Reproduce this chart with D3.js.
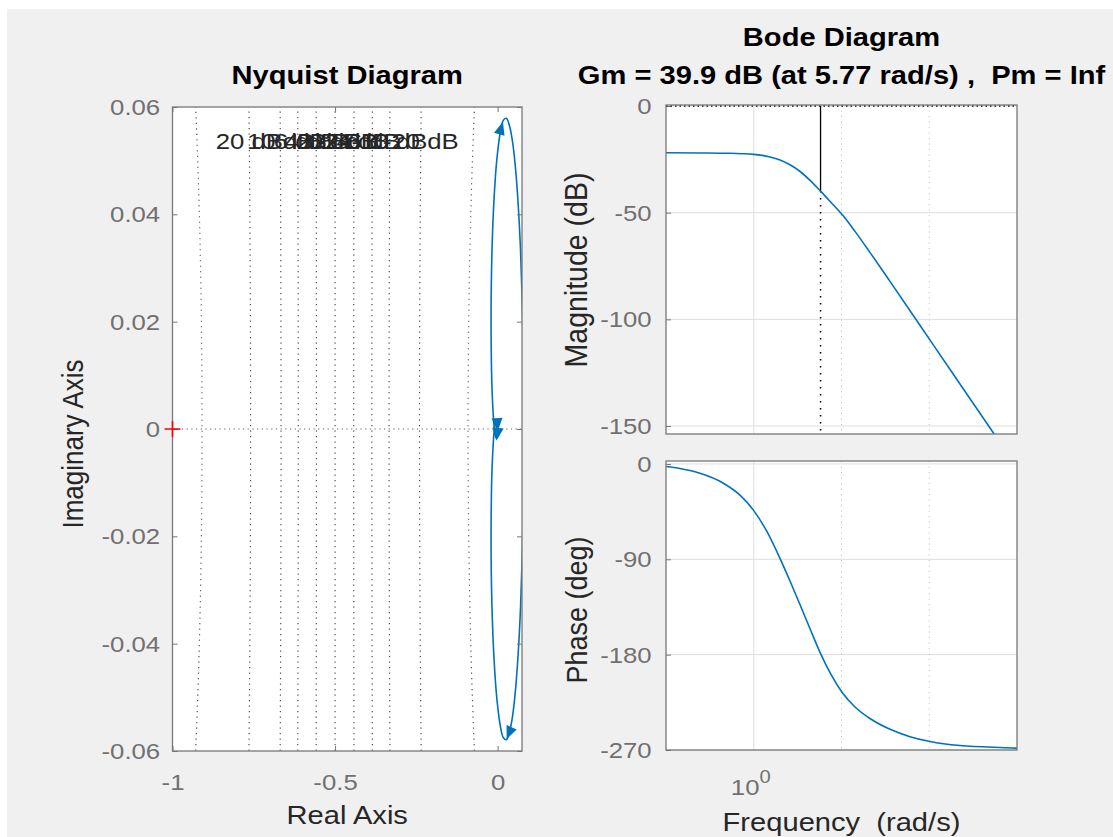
<!DOCTYPE html>
<html>
<head>
<meta charset="utf-8">
<script src="https://cdn.jsdelivr.net/npm/d3@7"></script>
<style>
  body { margin: 0; background: #fff; }
  svg { display: block; font-family: "Liberation Sans", Arial, Helvetica, sans-serif; }
</style>
</head>
<body>
<div id="chart"></div>
<script>
// ---- Nyquist data, listed along the frequency sweep
const nyqRe      = [0.0808, 0.0796, 0.0760, 0.0705, 0.0632, 0.0547, 0.0455, 0.0361, 0.0269, 0.0182, 0.0103, -0.0026, -0.0115, -0.0169, -0.0195, -0.0202, -0.0191, -0.0169, -0.0135, -0.0101, -0.0071, -0.0038, -0.0021, -0.0008, -0.0002, 0];
const nyqImLower = [0, -0.0118, -0.0232, -0.0333, -0.0419, -0.0488, -0.0537, -0.0566, -0.0579, -0.0576, -0.0560, -0.0501, -0.0423, -0.0341, -0.0265, -0.0199, -0.0122, -0.0070, -0.0027, 0, 0.0013, 0.0017, 0.0015, 0.0009, 0.0003, 0];
const nyqImUpper = [0, 0.0118, 0.0232, 0.0333, 0.0419, 0.0488, 0.0537, 0.0566, 0.0579, 0.0576, 0.0560, 0.0501, 0.0423, 0.0341, 0.0265, 0.0199, 0.0122, 0.0070, 0.0027, 0, -0.0013, -0.0017, -0.0015, -0.0009, -0.0003, 0];
// arrow heads: branch, index on branch, index it heads to
const nyqArrows = [["upper", 10, 9], ["lower", 7, 8], ["upper", 23, 22], ["lower", 23, 24]];
const mCircleDb = [20, 10, 6, 4, 2, 0, -2, -4, -6, -10, -20];
const mCircleLabels = ["20 dB", "10 dB", "6 dB", "4 dB", "2 dB", "0 dB", "-2 dB", "-4 dB", "-6 dB", "-10 dB", "-20 dB"];
const nyqXTicks = [-1, -0.5, 0];
const nyqXLabels = ["-1", "-0.5", "0"];
const nyqYTicks = [0.06, 0.04, 0.02, 0, -0.02, -0.04, -0.06];
const nyqYLabels = ["0.06", "0.04", "0.02", "0", "-0.02", "-0.04", "-0.06"];

// ---- Bode data
const magFreq = [0.1, 0.244, 0.536, 0.735, 1, 1.242, 1.53, 1.99, 2.59, 3.37, 4.38, 5.77, 7.4, 10.4, 14.25, 21.1, 35.7, 68.8, 172, 480, 1000];
const magDb   = [-21.9, -22.0, -22.17, -22.36, -22.69, -23.15, -23.9, -25.31, -27.56, -30.7, -34.83, -39.89, -44.67, -51.37, -58.78, -68.62, -82.22, -99.37, -123.42, -150.23, -169.45];
const phFreq = [0.1, 0.144, 0.244, 0.446, 0.697, 1, 1.416, 1.99, 2.59, 3.37, 4.38, 5.69, 7.59, 10.13, 14.25, 21.1, 35.7, 60.3, 102, 224, 899, 1000];
const phDeg  = [-2.4, -4.3, -8.8, -17.96, -29.48, -44.02, -63.84, -89.04, -110.5, -132.9, -155.6, -177.8, -198.7, -215.5, -229.4, -240.3, -250.5, -257.4, -262, -265.8, -268.1, -268.3];
const gmFreq = 5.77;
const gmDb = -39.9;
const magTicks = [0, -50, -100, -150];
const magLabels = ["0", "-50", "-100", "-150"];
const phTicks = [0, -90, -180, -270];
const phLabels = ["0", "-90", "-180", "-270"];
const freqMajor = [1];
const freqMinor = [10, 100];

const SX = 1.12; // glyphs in the picture are slightly wide
const blue = "#0072BD";

const svg = d3.select("#chart").append("svg")
    .attr("width", 1113)
    .attr("height", 837);

svg.append("rect").attr("x", 7).attr("y", 9).attr("width", 1106).attr("height", 828).attr("fill", "#f0f0f0");

function addText(g, x, y, s, o = {}) {
    return g.append("text")
        .attr("transform", `translate(${x},${y}) scale(${SX},1)` + (o.rotate ? ` rotate(${o.rotate})` : ""))
        .attr("text-anchor", o.anchor || "middle")
        .attr("font-size", o.size || 26)
        .attr("font-weight", o.weight || "normal")
        .attr("fill", o.fill || "#262626")
        .text(s);
}

function styleAxis(g, size) {
    g.select(".domain").remove();
    g.selectAll(".tick line").attr("stroke", "#777");
    g.selectAll(".tick text")
        .attr("font-size", size)
        .attr("fill", "#707070")
        .attr("font-family", "Liberation Sans, Arial, sans-serif")
        .attr("transform", `scale(${SX},1)`);
}

// =================== Nyquist ===================
const nL = 172.5, nR = 522, nT = 107, nB = 751;
const xN = d3.scaleLinear().domain([-1, 0.075]).range([nL, nR]);
const yN = d3.scaleLinear().domain([-0.06, 0.06]).range([nB, nT]);

const gN = svg.append("g");
gN.append("rect").attr("x", nL).attr("y", nT).attr("width", nR - nL).attr("height", nB - nT).attr("fill", "#fff");
svg.append("clipPath").attr("id", "clipN").append("rect")
    .attr("x", nL).attr("y", nT).attr("width", nR - nL).attr("height", nB - nT);
const gNc = gN.append("g").attr("clip-path", "url(#clipN)");

// M-circles (constant closed-loop gain)
const ySamples = d3.range(-0.062, 0.0621, 0.002);
mCircleDb.forEach(db => {
    let pts;
    if (db === 0) {
        pts = [[-0.5, -0.062], [-0.5, 0.062]];
    } else {
        const M = Math.pow(10, db / 20);
        const c = -M * M / (M * M - 1);
        const r = Math.abs(M / (M * M - 1));
        const side = M > 1 ? 1 : -1;
        pts = ySamples.filter(y => y * y <= r * r).map(y => [c + side * Math.sqrt(r * r - y * y), y]);
    }
    gNc.append("path")
        .attr("d", d3.line().x(d => xN(d[0])).y(d => yN(d[1]))(pts))
        .attr("fill", "none")
        .attr("stroke", "#505050")
        .attr("stroke-width", 1.2)
        .attr("stroke-dasharray", "1.2,4.3");
});

// real axis dotted
gNc.append("line")
    .attr("x1", nL).attr("x2", nR).attr("y1", yN(0)).attr("y2", yN(0))
    .attr("stroke", "#606060").attr("stroke-width", 1.2).attr("stroke-dasharray", "1.2,3.5");

// M-circle labels
mCircleDb.forEach((db, i) => {
    let cross;
    if (db === 0) cross = -0.5;
    else { const M = Math.pow(10, db / 20); cross = -M / (M + 1); }
    addText(gNc, xN(-0.5 + 0.645 * (cross + 0.5)), yN(0.0539) + 9, mCircleLabels[i], { size: 23, fill: "#262626" });
});

// Nyquist curves
const branches = {
    lower: nyqRe.map((r, i) => [r, nyqImLower[i]]),
    upper: nyqRe.map((r, i) => [r, nyqImUpper[i]])
};
const nyqLine = d3.line().x(d => xN(d[0])).y(d => yN(d[1])).curve(d3.curveCatmullRom.alpha(0.5));
["lower", "upper"].forEach(k => {
    gNc.append("path").attr("d", nyqLine(branches[k]))
        .attr("fill", "none").attr("stroke", blue).attr("stroke-width", 1.6);
});

// arrow heads
nyqArrows.forEach(([k, i, j]) => {
    const p = branches[k][i], q = branches[k][j];
    const x0 = xN(p[0]), y0 = yN(p[1]);
    const ang = Math.atan2(yN(q[1]) - y0, xN(q[0]) - x0) * 180 / Math.PI;
    gNc.append("path")
        .attr("d", "M7,0 L-6,-5.5 L-6,5.5 Z")
        .attr("transform", `translate(${x0},${y0}) rotate(${ang})`)
        .attr("fill", blue);
});

// axes
const axL = gN.append("g").attr("transform", `translate(${nL},0)`)
    .call(d3.axisLeft(yN).tickValues(nyqYTicks).tickFormat((d, i) => nyqYLabels[i]).tickSizeInner(-5).tickSizeOuter(0).tickPadding(11));
styleAxis(axL, 23);
const axR = gN.append("g").attr("transform", `translate(${nR},0)`)
    .call(d3.axisRight(yN).tickValues(nyqYTicks).tickFormat("").tickSizeInner(-5).tickSizeOuter(0));
styleAxis(axR, 23);
const axB = gN.append("g").attr("transform", `translate(0,${nB})`)
    .call(d3.axisBottom(xN).tickValues(nyqXTicks).tickFormat((d, i) => nyqXLabels[i]).tickSizeInner(-5).tickSizeOuter(0).tickPadding(23));
styleAxis(axB, 23);
const axT = gN.append("g").attr("transform", `translate(0,${nT})`)
    .call(d3.axisTop(xN).tickValues(nyqXTicks).tickFormat("").tickSizeInner(-5).tickSizeOuter(0));
styleAxis(axT, 23);

gN.append("rect").attr("x", nL).attr("y", nT).attr("width", nR - nL).attr("height", nB - nT)
    .attr("fill", "none").attr("stroke", "#777").attr("stroke-width", 1.3);

// critical point (-1, 0)
gN.append("path")
    .attr("d", `M${xN(-1) - 8},${yN(0)}H${xN(-1) + 8}M${xN(-1)},${yN(0) - 8}V${yN(0) + 8}`)
    .attr("stroke", "#ff0000").attr("stroke-width", 1.6);

addText(gN, (nL + nR) / 2, 84, "Nyquist Diagram", { weight: "bold", fill: "#000" });
addText(gN, (nL + nR) / 2, 824, "Real Axis");
addText(gN, 83, 444, "Imaginary Axis", { rotate: -90 });

// =================== Bode ===================
const bL = 666, bR = 1017;
const mT = 105, mB = 434, pT = 461, pB = 750;
const xB = d3.scaleLog().domain([0.1, 1000]).range([bL, bR]);
const yM = d3.scaleLinear().domain([-153.75, 0.47]).range([mB, mT]);
const yP = d3.scaleLinear().domain([-270, 2.8]).range([pB, pT]);

function bodePanel(top, bottom, y, ticks, labels, id) {
    const g = svg.append("g");
    g.append("rect").attr("x", bL).attr("y", top).attr("width", bR - bL).attr("height", bottom - top).attr("fill", "#fff");
    // horizontal grid
    g.selectAll(".hg").data(ticks).enter().append("line")
        .attr("x1", bL).attr("x2", bR).attr("y1", d => y(d)).attr("y2", d => y(d))
        .attr("stroke", "#dedede").attr("stroke-width", 1);
    // vertical grid
    g.selectAll(".vg").data(freqMajor).enter().append("line")
        .attr("x1", d => xB(d)).attr("x2", d => xB(d)).attr("y1", top).attr("y2", bottom)
        .attr("stroke", "#dedede").attr("stroke-width", 1);
    g.selectAll(".vm").data(freqMinor).enter().append("line")
        .attr("x1", d => xB(d)).attr("x2", d => xB(d)).attr("y1", top).attr("y2", bottom)
        .attr("stroke", "#c4c4c4").attr("stroke-width", 1).attr("stroke-dasharray", "1.2,4.3");
    svg.append("clipPath").attr("id", id).append("rect")
        .attr("x", bL).attr("y", top).attr("width", bR - bL).attr("height", bottom - top);
    const ax = g.append("g").attr("transform", `translate(${bL},0)`)
        .call(d3.axisLeft(y).tickValues(ticks).tickFormat((d, i) => labels[i]).tickSizeInner(-5).tickSizeOuter(0).tickPadding(12.8));
    styleAxis(ax, 23);
    return g;
}

// magnitude
const gM = bodePanel(mT, mB, yM, magTicks, magLabels, "clipM");
const gMc = gM.append("g").attr("clip-path", "url(#clipM)");
gMc.append("line").attr("x1", bL).attr("x2", bR).attr("y1", yM(0)).attr("y2", yM(0))
    .attr("stroke", "#000").attr("stroke-width", 1.3).attr("stroke-dasharray", "1.5,3");
gMc.append("line").attr("x1", xB(gmFreq)).attr("x2", xB(gmFreq)).attr("y1", yM(0)).attr("y2", yM(gmDb))
    .attr("stroke", "#000").attr("stroke-width", 1.3);
gMc.append("line").attr("x1", xB(gmFreq)).attr("x2", xB(gmFreq)).attr("y1", yM(gmDb)).attr("y2", mB)
    .attr("stroke", "#000").attr("stroke-width", 1.5).attr("stroke-dasharray", "1.5,5.5");
gMc.append("path")
    .attr("d", d3.line().x((d, i) => xB(magFreq[i])).y(d => yM(d)).curve(d3.curveMonotoneX)(magDb))
    .attr("fill", "none").attr("stroke", blue).attr("stroke-width", 1.6);
gM.append("rect").attr("x", bL).attr("y", mT).attr("width", bR - bL).attr("height", mB - mT)
    .attr("fill", "none").attr("stroke", "#777").attr("stroke-width", 1.3);

// phase
const gP = bodePanel(pT, pB, yP, phTicks, phLabels, "clipP");
const gPc = gP.append("g").attr("clip-path", "url(#clipP)");
gPc.append("path")
    .attr("d", d3.line().x((d, i) => xB(phFreq[i])).y(d => yP(d)).curve(d3.curveMonotoneX)(phDeg))
    .attr("fill", "none").attr("stroke", blue).attr("stroke-width", 1.6);
gP.append("rect").attr("x", bL).attr("y", pT).attr("width", bR - bL).attr("height", pB - pT)
    .attr("fill", "none").attr("stroke", "#777").attr("stroke-width", 1.3);

// frequency tick label 10^0
const tl = gP.append("text")
    .attr("transform", `translate(${xB(1) - 3},${795}) scale(${SX},1)`)
    .attr("text-anchor", "middle")
    .attr("font-size", 23)
    .attr("fill", "#707070");
tl.append("tspan").text("10");
tl.append("tspan").attr("font-size", 18).attr("dy", -12).text("0");

addText(svg, (bL + bR) / 2, 46, "Bode Diagram", { weight: "bold", fill: "#000" });
addText(svg, (bL + bR) / 2, 84, "Gm = 39.9 dB (at 5.77 rad/s) ,\u00a0 Pm = Inf", { weight: "bold", fill: "#000" });
addText(svg, (bL + bR) / 2, 831, "Frequency \u00a0(rad/s)");
addText(svg, 587, 270, "Magnitude (dB)", { rotate: -90, size: 28.5 });
addText(svg, 587, 610, "Phase (deg)", { rotate: -90, size: 27 });
</script>
</body>
</html>
